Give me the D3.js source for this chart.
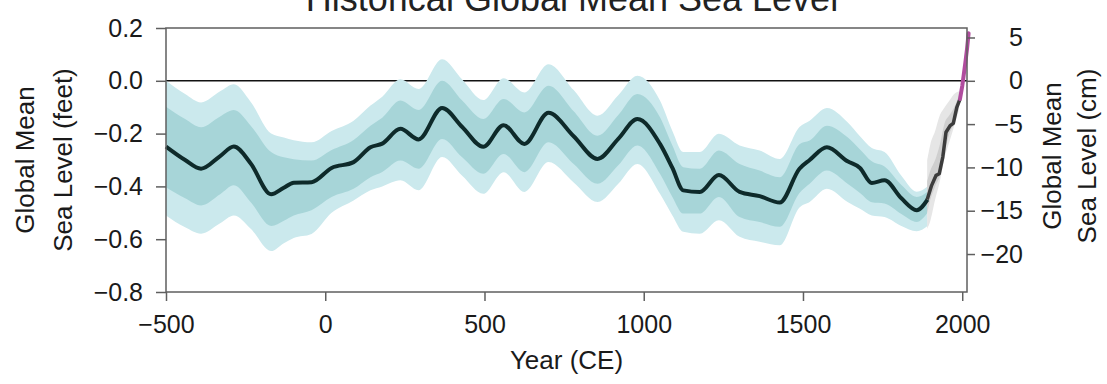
<!DOCTYPE html>
<html>
<head>
<meta charset="utf-8">
<script src="https://cdn.jsdelivr.net/npm/d3@7"></script>
<style>
  body { margin: 0; background: #fff; }
  svg { display: block; font-family: "Liberation Sans", Arial, sans-serif; }
  .tick text { fill: #1a1a1a; }
</style>
</head>
<body>
<div id="wrapper"></div>
<script>
// 1. Data (feet, years CE)
const proxyYears = [-500, -440, -390, -330, -287, -234, -170, -130, -99, -43, 20, 89, 142, 179, 236, 293, 367, 430, 496, 560, 625, 701, 780, 855, 920, 980, 1051, 1090, 1124, 1176, 1236, 1301, 1364, 1427, 1489, 1521, 1575, 1640, 1679, 1716, 1756, 1809, 1857, 1891]
const proxyMean = [-0.249, -0.30, -0.333, -0.285, -0.249, -0.313, -0.43, -0.405, -0.386, -0.384, -0.33, -0.308, -0.252, -0.238, -0.182, -0.222, -0.103, -0.175, -0.250, -0.168, -0.239, -0.121, -0.21, -0.296, -0.22, -0.145, -0.239, -0.33, -0.415, -0.421, -0.357, -0.421, -0.437, -0.461, -0.333, -0.30, -0.252, -0.305, -0.33, -0.387, -0.377, -0.445, -0.49, -0.45]
const outerHi = [0.0, -0.05, -0.082, -0.04, -0.013, -0.08, -0.20, -0.215, -0.225, -0.233, -0.19, -0.151, -0.094, -0.06, 0.006, -0.031, 0.082, 0.005, -0.073, 0.01, -0.044, 0.063, -0.035, -0.132, -0.055, 0.019, -0.075, -0.19, -0.27, -0.27, -0.201, -0.245, -0.264, -0.296, -0.175, -0.151, -0.103, -0.157, -0.21, -0.255, -0.27, -0.36, -0.42, -0.40]
const innerHi = [-0.098, -0.145, -0.176, -0.135, -0.111, -0.17, -0.27, -0.29, -0.297, -0.302, -0.262, -0.224, -0.170, -0.14, -0.075, -0.111, 0.0, -0.075, -0.145, -0.069, -0.12, -0.019, -0.115, -0.208, -0.13, -0.05, -0.138, -0.245, -0.327, -0.333, -0.264, -0.315, -0.34, -0.365, -0.24, -0.226, -0.17, -0.214, -0.26, -0.305, -0.325, -0.395, -0.44, -0.42]
const innerLo = [-0.403, -0.445, -0.472, -0.43, -0.396, -0.46, -0.55, -0.53, -0.51, -0.49, -0.44, -0.409, -0.365, -0.345, -0.302, -0.333, -0.220, -0.29, -0.352, -0.277, -0.346, -0.233, -0.315, -0.39, -0.32, -0.245, -0.352, -0.44, -0.503, -0.503, -0.44, -0.516, -0.535, -0.553, -0.425, -0.39, -0.34, -0.39, -0.425, -0.46, -0.465, -0.505, -0.535, -0.50]
const outerLo = [-0.51, -0.555, -0.579, -0.54, -0.51, -0.56, -0.645, -0.615, -0.595, -0.58, -0.50, -0.453, -0.415, -0.40, -0.377, -0.415, -0.289, -0.36, -0.428, -0.346, -0.421, -0.308, -0.385, -0.459, -0.39, -0.315, -0.428, -0.51, -0.572, -0.579, -0.528, -0.591, -0.61, -0.623, -0.48, -0.459, -0.409, -0.459, -0.485, -0.51, -0.516, -0.55, -0.57, -0.55]

const tideYears = [1890, 1904, 1918, 1928, 1939, 1949, 1962, 1972, 1983, 1993]
const tideMean = [-0.45, -0.396, -0.358, -0.352, -0.289, -0.195, -0.170, -0.161, -0.101, -0.069]

const tideBandYears = [1890, 1900, 1915, 1930, 1945, 1960, 1975, 1990]
const tideOuterHi = [-0.30, -0.24, -0.19, -0.13, -0.10, -0.075, -0.05, -0.04]
const tideOuterLo = [-0.56, -0.53, -0.45, -0.38, -0.29, -0.23, -0.17, -0.11]
const tideInnerHi = [-0.38, -0.34, -0.30, -0.24, -0.16, -0.13, -0.10, -0.055]
const tideInnerLo = [-0.50, -0.45, -0.40, -0.36, -0.27, -0.20, -0.16, -0.09]

const satYears = [1993, 2000, 2005, 2010, 2015, 2020]
const satMean = [-0.069, -0.02, 0.025, 0.07, 0.12, 0.18]

const xTicks = [-500, 0, 500, 1000, 1500, 2000]
const ftTicks = [0.2, 0.0, -0.2, -0.4, -0.6, -0.8]
const cmTicks = [5, 0, -5, -10, -15, -20]
const CM_PER_FT = 30.48

// 2. Dimensions
let dimensions = {
  width: 1107,
  height: 384,
  margin: { top: 28, right: 140, bottom: 92, left: 166 },
}
dimensions.boundedWidth = dimensions.width - dimensions.margin.left - dimensions.margin.right
dimensions.boundedHeight = dimensions.height - dimensions.margin.top - dimensions.margin.bottom

// 3. Canvas
const wrapper = d3.select("#wrapper")
  .append("svg")
  .attr("width", dimensions.width)
  .attr("height", dimensions.height)

const bounds = wrapper.append("g")
  .attr("transform", `translate(${dimensions.margin.left},${dimensions.margin.top})`)

// 4. Scales
const xScale = d3.scaleLinear()
  .domain([-500, 2015])
  .range([0, dimensions.boundedWidth])

const yScale = d3.scaleLinear()
  .domain([-0.8, 0.2])
  .range([dimensions.boundedHeight, 0])

const yScaleCm = d3.scaleLinear()
  .domain([-0.8 * CM_PER_FT, 0.2 * CM_PER_FT])
  .range([dimensions.boundedHeight, 0])

// 5. Draw data
const proxy = proxyYears.map((yr, i) => ({
  year: yr, mean: proxyMean[i],
  oHi: outerHi[i], iHi: innerHi[i], iLo: innerLo[i], oLo: outerLo[i],
}))
const tideBand = tideBandYears.map((yr, i) => ({
  year: yr, oHi: tideOuterHi[i], oLo: tideOuterLo[i], iHi: tideInnerHi[i], iLo: tideInnerLo[i],
}))

// zero line sits under the bands
bounds.append("line")
  .attr("x1", xScale(-500)).attr("x2", dimensions.boundedWidth)
  .attr("y1", yScale(0)).attr("y2", yScale(0))
  .attr("stroke", "#111").attr("stroke-width", 1.6)

const bandArea = (hi, lo) => d3.area()
  .x(d => xScale(d.year))
  .y0(d => yScale(d[lo]))
  .y1(d => yScale(d[hi]))
  .curve(d3.curveMonotoneX)

bounds.append("path").datum(proxy)
  .attr("d", bandArea("oHi", "oLo"))
  .attr("fill", "#cbe9ed")
bounds.append("path").datum(proxy)
  .attr("d", bandArea("iHi", "iLo"))
  .attr("fill", "#a7d5d8")

bounds.append("path").datum(tideBand)
  .attr("d", bandArea("oHi", "oLo"))
  .attr("fill", "#e6e6e6")
bounds.append("path").datum(tideBand)
  .attr("d", bandArea("iHi", "iLo"))
  .attr("fill", "#cfcfcf")

const lineGen = d3.line()
  .x(d => xScale(d[0]))
  .y(d => yScale(d[1]))

bounds.append("path")
  .datum(d3.zip(proxyYears, proxyMean))
  .attr("d", lineGen.curve(d3.curveMonotoneX))
  .attr("fill", "none")
  .attr("stroke", "#0e2a2a")
  .attr("stroke-width", 4)
  .attr("stroke-linejoin", "round")

bounds.append("path")
  .datum(d3.zip(tideYears, tideMean))
  .attr("d", d3.line().x(d => xScale(d[0])).y(d => yScale(d[1])))
  .attr("fill", "none")
  .attr("stroke", "#3c3c3c")
  .attr("stroke-width", 3.5)
  .attr("stroke-linejoin", "round")

bounds.append("path")
  .datum(d3.zip(satYears, satMean))
  .attr("d", d3.line().x(d => xScale(d[0])).y(d => yScale(d[1])))
  .attr("fill", "none")
  .attr("stroke", "#b04c9e")
  .attr("stroke-width", 4)
  .attr("stroke-linecap", "round")

// 6. Peripherals
bounds.append("rect")
  .attr("width", dimensions.boundedWidth)
  .attr("height", dimensions.boundedHeight)
  .attr("fill", "none")
  .attr("stroke", "#5f5f5f")
  .attr("stroke-width", 1.5)

const styleAxis = g => {
  g.select(".domain").remove()
  g.selectAll(".tick line").attr("stroke", "#5f5f5f").attr("stroke-width", 1.5)
  g.selectAll(".tick text").style("font-size", "25px")
}

bounds.append("g")
  .call(d3.axisLeft(yScale).tickValues(ftTicks).tickFormat(d3.format(".1f"))
    .tickSize(10).tickPadding(13))
  .call(styleAxis)

bounds.append("g")
  .attr("transform", `translate(0,${dimensions.boundedHeight})`)
  .call(d3.axisBottom(xScale).tickValues(xTicks).tickFormat(d3.format("d"))
    .tickSize(9).tickPadding(14))
  .call(styleAxis)

const rightAxis = bounds.append("g")
  .attr("transform", `translate(${dimensions.boundedWidth},0)`)
  .call(d3.axisRight(yScaleCm).tickValues(cmTicks).tickFormat(d3.format("d"))
    .tickSize(8).tickPadding(48))
  .call(styleAxis)
rightAxis.selectAll(".tick text").attr("text-anchor", "end")

// axis labels
const labelFont = "26px"
const leftLabel = wrapper.append("text")
  .attr("transform", `translate(25,${dimensions.margin.top + yScale(-0.3)}) rotate(-90)`)
  .attr("text-anchor", "middle")
  .style("font-size", labelFont)
  .attr("fill", "#1a1a1a")
leftLabel.append("tspan").attr("x", 0).attr("dy", "0.35em").text("Global Mean")
leftLabel.append("tspan").attr("x", 0).attr("dy", "1.45em").text("Sea Level (feet)")

const rightLabel = wrapper.append("text")
  .attr("transform", `translate(1052,${dimensions.margin.top + yScale(-0.3) - 4}) rotate(-90)`)
  .attr("text-anchor", "middle")
  .style("font-size", labelFont)
  .attr("fill", "#1a1a1a")
rightLabel.append("tspan").attr("x", 0).attr("dy", "0.35em").text("Global Mean")
rightLabel.append("tspan").attr("x", 0).attr("dy", "1.35em").text("Sea Level (cm)")

wrapper.append("text")
  .attr("x", dimensions.margin.left + dimensions.boundedWidth / 2)
  .attr("y", 369)
  .attr("text-anchor", "middle")
  .style("font-size", labelFont)
  .attr("fill", "#1a1a1a")
  .text("Year (CE)")

// title, mostly cropped off the top
wrapper.append("text")
  .attr("x", 572)
  .attr("y", 11)
  .attr("text-anchor", "middle")
  .style("font-size", "36px")
  .attr("fill", "#222")
  .text("Historical Global Mean Sea Level")
</script>
</body>
</html>
